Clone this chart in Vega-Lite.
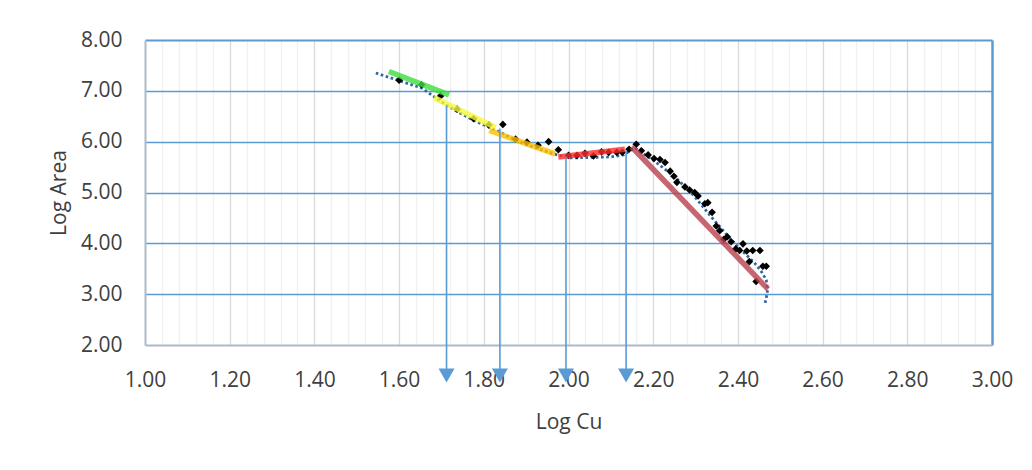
{
  "$schema": "https://vega.github.io/schema/vega-lite/v6.json",
  "width": 847,
  "height": 305,
  "autosize": {"type": "none"},
  "padding": {"left": 145, "top": 40, "right": 40, "bottom": 125},
  "background": "white",
  "config": {"view": {"stroke": null}, "font": "Open Sans"},
  "datasets": {
    "pts": [
      {"x": 1.600, "y": 7.21}, {"x": 1.653, "y": 7.12}, {"x": 1.698, "y": 6.90},
      {"x": 1.737, "y": 6.64}, {"x": 1.776, "y": 6.45}, {"x": 1.812, "y": 6.33}, {"x": 1.845, "y": 6.34},
      {"x": 1.875, "y": 6.05}, {"x": 1.902, "y": 5.99}, {"x": 1.928, "y": 5.93}, {"x": 1.953, "y": 6.00}, {"x": 1.976, "y": 5.84},
      {"x": 2.000, "y": 5.73}, {"x": 2.020, "y": 5.73}, {"x": 2.039, "y": 5.77}, {"x": 2.059, "y": 5.72}, {"x": 2.078, "y": 5.80},
      {"x": 2.095, "y": 5.79}, {"x": 2.114, "y": 5.79}, {"x": 2.127, "y": 5.79}, {"x": 2.143, "y": 5.85}, {"x": 2.160, "y": 5.95},
      {"x": 2.172, "y": 5.82}, {"x": 2.188, "y": 5.74}, {"x": 2.202, "y": 5.67}, {"x": 2.216, "y": 5.65}, {"x": 2.228, "y": 5.59},
      {"x": 2.240, "y": 5.42}, {"x": 2.249, "y": 5.32}, {"x": 2.256, "y": 5.20}, {"x": 2.275, "y": 5.11}, {"x": 2.286, "y": 5.05},
      {"x": 2.298, "y": 5.00}, {"x": 2.306, "y": 4.93}, {"x": 2.322, "y": 4.78}, {"x": 2.329, "y": 4.80}, {"x": 2.339, "y": 4.61},
      {"x": 2.349, "y": 4.34}, {"x": 2.357, "y": 4.25}, {"x": 2.367, "y": 4.08}, {"x": 2.375, "y": 4.13}, {"x": 2.384, "y": 4.03},
      {"x": 2.395, "y": 3.89}, {"x": 2.404, "y": 3.86}, {"x": 2.412, "y": 3.99}, {"x": 2.421, "y": 3.85}, {"x": 2.427, "y": 3.64},
      {"x": 2.435, "y": 3.86}, {"x": 2.443, "y": 3.25}, {"x": 2.452, "y": 3.86}, {"x": 2.459, "y": 3.55}, {"x": 2.467, "y": 3.55}
    ],
    "trend": [
      {"i": 1, "x": 1.545, "y": 7.35}, {"i": 2, "x": 1.600, "y": 7.20}, {"i": 3, "x": 1.655, "y": 7.05},
      {"i": 4, "x": 1.700, "y": 6.78}, {"i": 5, "x": 1.740, "y": 6.58}, {"i": 6, "x": 1.776, "y": 6.42},
      {"i": 7, "x": 1.835, "y": 6.20}, {"i": 8, "x": 1.870, "y": 6.05}, {"i": 9, "x": 1.900, "y": 5.94},
      {"i": 10, "x": 1.930, "y": 5.86}, {"i": 11, "x": 1.961, "y": 5.77}, {"i": 12, "x": 2.000, "y": 5.68},
      {"i": 13, "x": 2.055, "y": 5.69}, {"i": 14, "x": 2.100, "y": 5.70}, {"i": 15, "x": 2.130, "y": 5.74},
      {"i": 16, "x": 2.157, "y": 5.88}, {"i": 17, "x": 2.204, "y": 5.61}, {"i": 18, "x": 2.251, "y": 5.31},
      {"i": 19, "x": 2.298, "y": 4.92}, {"i": 20, "x": 2.337, "y": 4.52}, {"i": 21, "x": 2.384, "y": 4.07},
      {"i": 22, "x": 2.410, "y": 3.85}, {"i": 23, "x": 2.439, "y": 3.62}, {"i": 24, "x": 2.455, "y": 3.45},
      {"i": 25, "x": 2.467, "y": 3.28}, {"i": 26, "x": 2.470, "y": 3.08}, {"i": 27, "x": 2.467, "y": 2.92},
      {"i": 28, "x": 2.463, "y": 2.79}
    ],
    "segs": [
      {"seg": "a", "x": 1.576, "y": 7.38, "x2": 1.718, "y2": 6.92},
      {"seg": "b", "x": 1.682, "y": 6.87, "x2": 1.828, "y2": 6.28},
      {"seg": "c", "x": 1.813, "y": 6.22, "x2": 1.968, "y2": 5.76},
      {"seg": "d", "x": 1.976, "y": 5.70, "x2": 2.133, "y2": 5.85},
      {"seg": "e", "x": 2.149, "y": 5.90, "x2": 2.471, "y2": 3.10}
    ],
    "arrows": [
      {"x": 1.712, "y": 6.71, "y2": 1.45},
      {"x": 1.838, "y": 6.26, "y2": 1.45},
      {"x": 1.994, "y": 5.71, "y2": 1.45},
      {"x": 2.136, "y": 5.83, "y2": 1.45}
    ],
    "tips": [
      {"x": 1.712, "y": 1.40},
      {"x": 1.838, "y": 1.40},
      {"x": 1.994, "y": 1.40},
      {"x": 2.136, "y": 1.40}
    ]
  },
  "encoding": {
    "x": {
      "field": "x", "type": "quantitative",
      "scale": {"domain": [1, 3], "nice": false, "zero": false},
      "axis": {
        "title": "Log Cu",
        "values": [1.00,1.04,1.08,1.12,1.16,1.20,1.24,1.28,1.32,1.36,1.40,1.44,1.48,1.52,1.56,1.60,1.64,1.68,1.72,1.76,1.80,1.84,1.88,1.92,1.96,2.00,2.04,2.08,2.12,2.16,2.20,2.24,2.28,2.32,2.36,2.40,2.44,2.48,2.52,2.56,2.60,2.64,2.68,2.72,2.76,2.80,2.84,2.88,2.92,2.96,3.00],
        "labelExpr": "abs(datum.value*5 - round(datum.value*5)) < 0.001 ? format(datum.value, '.2f') : ''",
        "labelOverlap": false,
        "labelFlush": false,
        "labelFont": "Open Sans", "labelFontSize": 21, "labelColor": "#404040", "labelPadding": 24,
        "ticks": false, "tickSize": 0,
        "domainColor": "#adb9ca", "domainWidth": 2,
        "grid": true,
        "gridColor": {"expr": "datum.value > 2.999 ? '#5b9bd5' : (datum.value < 1.001 ? 'transparent' : (abs(datum.value*5 - round(datum.value*5)) < 0.001 ? '#d9d9d9' : '#f0f0f0'))"},
        "gridWidth": {"expr": "datum.value > 2.999 ? 2.5 : 1.3"},
        "titleFont": "Open Sans", "titleFontSize": 21, "titleFontWeight": "normal", "titleColor": "#404040", "titlePadding": 21
      }
    },
    "y": {
      "field": "y", "type": "quantitative",
      "scale": {"domain": [2, 8], "nice": false, "zero": false},
      "axis": {
        "title": "Log Area",
        "values": [2, 3, 4, 5, 6, 7, 8],
        "format": ".2f",
        "labelFont": "Open Sans", "labelFontSize": 21, "labelColor": "#404040", "labelPadding": 23,
        "ticks": false, "tickSize": 0,
        "domainColor": "#adb9ca", "domainWidth": 2,
        "grid": true,
        "gridColor": {"expr": "datum.value < 2.001 ? 'transparent' : '#5b9bd5'"},
        "gridWidth": {"expr": "datum.value > 7.999 ? 2.2 : 1.3"},
        "titleFont": "Open Sans", "titleFontSize": 21, "titleFontWeight": "normal", "titleColor": "#404040", "titlePadding": 11
      }
    }
  },
  "layer": [
    {
      "data": {"name": "trend"},
      "mark": {"type": "line", "color": "#33679f", "strokeWidth": 2.8, "strokeDash": [2.6, 2.6]},
      "encoding": {"order": {"field": "i", "type": "quantitative"}}
    },
    {
      "data": {"name": "pts"},
      "mark": {"type": "point", "shape": "diamond", "filled": true, "color": "black", "size": 58, "opacity": 1}
    },
    {
      "data": {"name": "segs"},
      "mark": {"type": "rule", "strokeWidth": 5.5, "opacity": 0.8},
      "encoding": {
        "x2": {"field": "x2"},
        "y2": {"field": "y2"},
        "color": {"field": "seg", "type": "nominal", "scale": {"domain": ["a", "b", "c", "d", "e"], "range": ["#3ddc3d", "#f8f83a", "#ffc000", "#ff2a2a", "#b8404e"]}, "legend": null}
      }
    },
    {
      "data": {"name": "arrows"},
      "mark": {"type": "rule", "color": "#5b9bd5", "strokeWidth": 1.6},
      "encoding": {"y2": {"field": "y2"}}
    },
    {
      "data": {"name": "tips"},
      "mark": {"type": "point", "shape": "triangle-down", "filled": true, "color": "#5b9bd5", "size": 256, "opacity": 1}
    }
  ]
}
